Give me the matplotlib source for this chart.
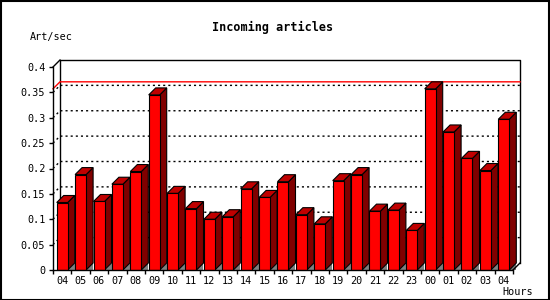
import matplotlib
matplotlib.use("Agg")
import matplotlib.pyplot as plt
from matplotlib.patches import Rectangle, Polygon

hours = ["04", "05", "06", "07", "08", "09", "10", "11", "12", "13", "14", "15",
         "16", "17", "18", "19", "20", "21", "22", "23", "00", "01", "02", "03", "04"]
values = [0.133, 0.188, 0.135, 0.169, 0.194, 0.345, 0.151, 0.121, 0.100, 0.105,
          0.160, 0.143, 0.174, 0.109, 0.091, 0.176, 0.188, 0.116, 0.118, 0.078,
          0.357, 0.272, 0.220, 0.196, 0.297]
yticks = [0, 0.05, 0.1, 0.15, 0.2, 0.25, 0.3, 0.35, 0.4]
ytick_labels = ["0", "0.05", "0.1", "0.15", "0.2", "0.25", "0.3", "0.35", "0.4"]
title = "Incoming articles"
ylabel = "Art/sec"
xlabel = "Hours"

W, H = 550, 300
fig = plt.figure(figsize=(W / 100, H / 100), dpi=100)
fig.patch.set_facecolor("white")

n = len(values)
slot_px = 18.4
depth_px = 7.0
ypx_per_unit = 507.5
ymax = 0.4
left_px, front_bottom_px = 53, 270
width_px = n * slot_px + depth_px
height_px = ymax * ypx_per_unit + depth_px
ax = fig.add_axes([left_px / W, (H - front_bottom_px) / H, width_px / W, height_px / H])
dx = depth_px / slot_px
dy = depth_px / ypx_per_unit
ax.set_xlim(0, n + dx)
ax.set_ylim(0, ymax + dy)
for s in ax.spines.values():
    s.set_visible(False)
ax.patch.set_visible(False)

mono = "DejaVu Sans Mono"
# back frame
ax.plot([dx, dx, n + dx, n + dx], [dy, ymax + dy, ymax + dy, dy], color="black", lw=1, zorder=1, clip_on=False)
ax.plot([0, dx], [ymax, ymax + dy], color="black", lw=1, zorder=1, clip_on=False)
# grid lines (with left-wall diagonal)
for t in yticks[1:-1]:
    ax.plot([0, dx, n + dx], [t, t + dy, t + dy], color="black", lw=1,
            linestyle=(0, (1.5, 2.2)), zorder=1, clip_on=False)
# max line
mx = max(values)
ax.plot([0, dx, n + dx], [mx, mx + dy, mx + dy], color="red", lw=1, zorder=1.5, clip_on=False)

# bars
w = 11 / slot_px
for i, v in enumerate(values):
    x0 = i + (1 - w) / 2
    x1 = x0 + w
    ax.add_patch(Polygon([(x1, 0), (x1 + dx, 0), (x1 + dx, dy)], closed=True,
                         facecolor="#808080", edgecolor="none", zorder=2))
    ax.add_patch(Polygon([(x1, 0), (x1 + dx, dy), (x1 + dx, v + dy), (x1, v)], closed=True,
                         facecolor="#800000", edgecolor="black", lw=0.8, zorder=3))
    ax.add_patch(Polygon([(x0, v), (x1, v), (x1 + dx, v + dy), (x0 + dx, v + dy)], closed=True,
                         facecolor="#C00000", edgecolor="black", lw=0.8, zorder=3))
    ax.add_patch(Rectangle((x0, 0), w, v, facecolor="#FF0000", edgecolor="black", lw=0.8, zorder=4))

# front axes
ax.plot([0, 0], [0, ymax], color="black", lw=1, zorder=5, clip_on=False)
ax.plot([0, n], [0, 0], color="black", lw=1, zorder=5, clip_on=False)
ax.plot([n, n + dx], [0, dy], color="black", lw=1, zorder=5, clip_on=False)

ax.set_yticks(yticks)
ax.set_yticklabels(ytick_labels, fontfamily=mono, fontsize=7.3)
ax.tick_params(axis="y", direction="out", length=3, width=1, pad=2.5)
ax.set_xticks(range(n + 1))
ax.set_xticklabels([""] * (n + 1))
ax.set_xticks([i + 0.5 for i in range(n)], minor=True)
ax.set_xticklabels(hours, minor=True, fontfamily=mono, fontsize=7.3)
ax.tick_params(axis="x", which="major", direction="out", length=3, width=1)
ax.tick_params(axis="x", which="minor", length=0, pad=4)

fig.text(273 / W, 1 - 27 / H, title, ha="center", va="center", fontfamily=mono,
         fontsize=8.5, fontweight="bold")
fig.text(30 / W, 1 - 37 / H, ylabel, ha="left", va="center", fontfamily=mono, fontsize=7.3)
fig.text(533 / W, 1 - 292 / H, xlabel, ha="right", va="center", fontfamily=mono, fontsize=7.3)

fig.patches.append(Rectangle((0.5 / W, 0.5 / H), (W - 1.5) / W, (H - 1.5) / H,
                             transform=fig.transFigure, fill=False, edgecolor="black", lw=1.5))
fig.savefig("out.png", dpi=100)
